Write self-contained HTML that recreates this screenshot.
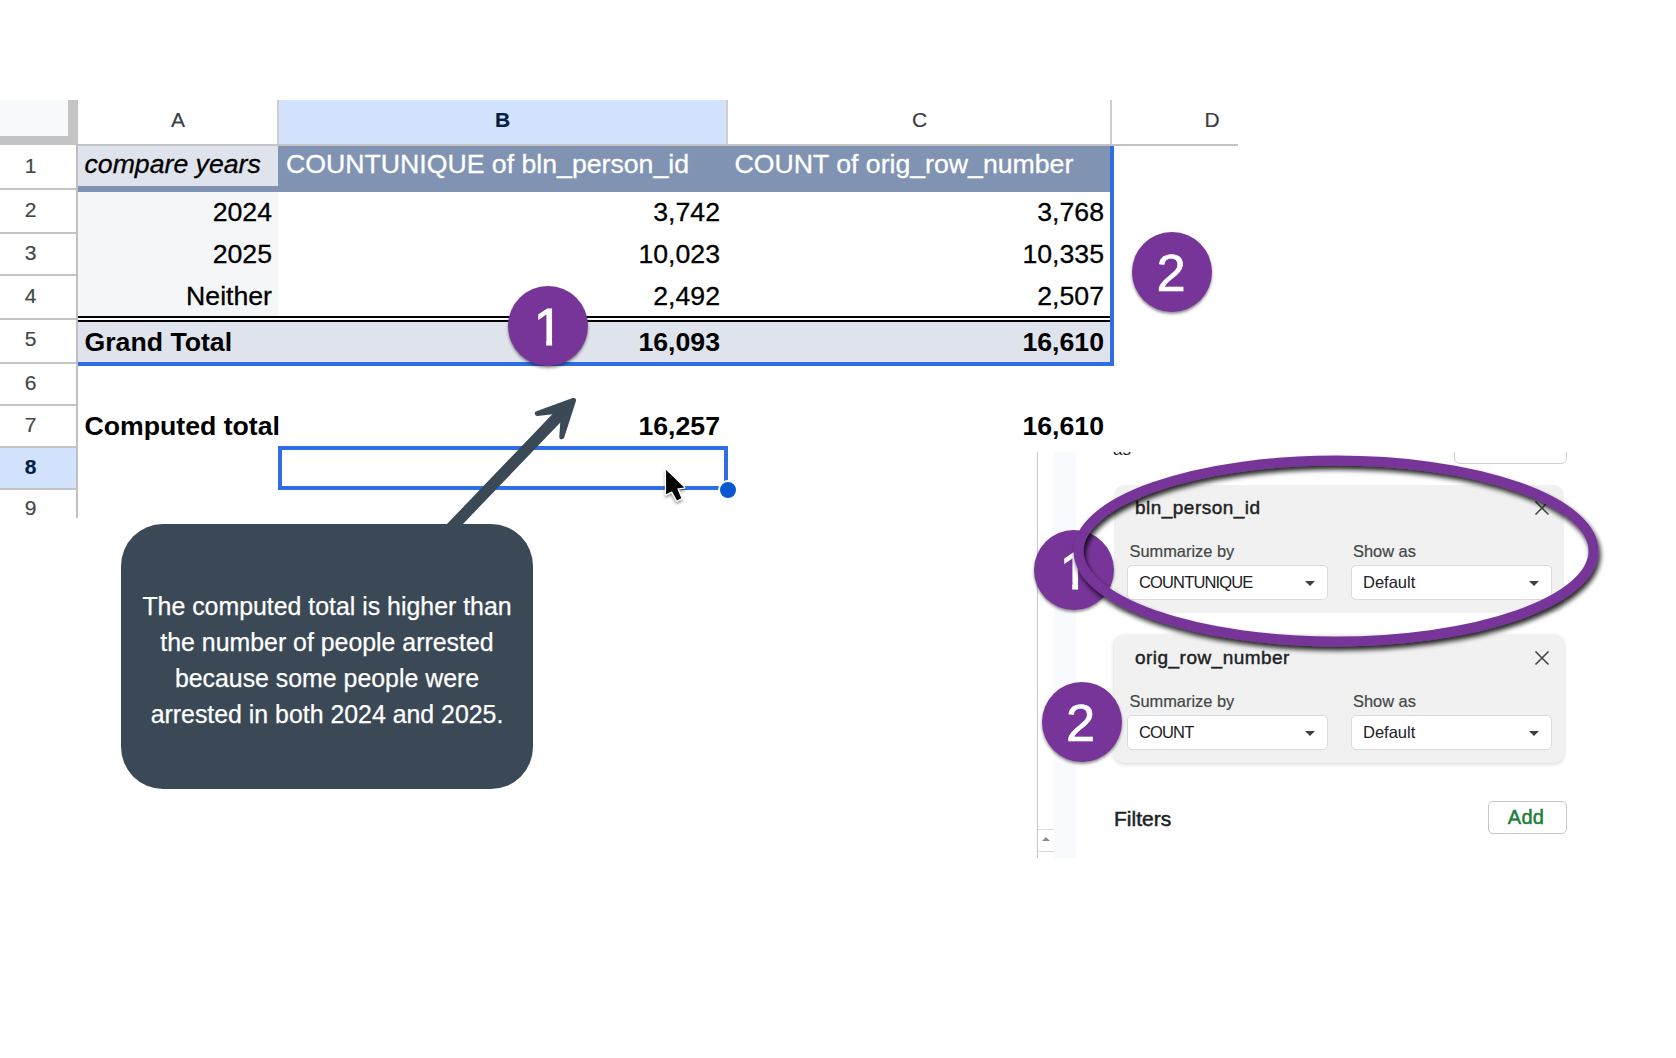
<!DOCTYPE html>
<html lang="en">
<head>
<meta charset="utf-8">
<title>Pivot table totals</title>
<style>
*{box-sizing:border-box;margin:0;padding:0}
html,body{width:1676px;height:1058px;background:#fff;overflow:hidden}
body{position:relative;font-family:"Liberation Sans",sans-serif;color:#000}
.abs{position:absolute}
/* ---------- spreadsheet ---------- */
#sheet{position:absolute;left:0;top:100px;width:1238px;height:418px;overflow:hidden;background:#fff}
#sheet .abs{position:absolute}
.corner{left:0;top:0;width:78px;height:45px;background:#c4c4c4}
.corner i{position:absolute;left:0;top:0;width:68px;height:36px;background:#f8f9fa;display:block}
.colh{-webkit-text-stroke:.2px currentColor;top:0;height:44px;line-height:40.6px;text-align:center;font-size:21px;color:#3c4043;background:#fff}
.colh.sel{background:#d3e3fd;color:#041e49;font-weight:bold}
.vline{top:0;width:2px;height:45px;background:#cfcfcf}
.hline{left:78px;top:44px;height:2px;width:1160px;background:#c4c4c4}
.rowh{left:0;width:77px;text-align:center;font-size:21px;color:#444746;background:#fff;padding-right:16px}
.rowh span{position:relative;top:-1.5px;-webkit-text-stroke:.2px currentColor}
.rowh.sel{background:#d3e3fd;color:#041e49;font-weight:bold}
.rline{left:0;width:77px;height:2px;background:#c4c4c4}
.rvline{left:76px;top:44px;width:2px;height:374px;background:#c0c0c0}
.cell{font-size:26.67px;white-space:nowrap;line-height:30px;-webkit-text-stroke:.3px currentColor}
.cell.b{-webkit-text-stroke:0}
.r{text-align:right}
.b{font-weight:bold}

/* ---------- annotations ---------- */
.badge{position:absolute;width:80px;height:80px;border-radius:50%;background:#773599;color:#fff;font-size:52.5px;line-height:80px;text-align:center;box-shadow:0 2px 3px rgba(0,0,0,.45)}
.badge span{position:absolute;left:-.8px;top:.5px;width:80px;height:80px;display:block;-webkit-text-stroke:.6px #fff}
.badge span.one{left:25.7px;width:auto;-webkit-text-stroke:.9px #fff;clip-path:polygon(0 0,100% 0,100% 65%,63% 65%,63% 100%,43% 100%,43% 65%,0 65%)}
#callout{position:absolute;left:121px;top:524px;width:412px;height:265px;border-radius:42px;background:#3a4955;color:#fff;font-size:24.88px;line-height:36px;text-align:center;padding-top:64px;-webkit-text-stroke:.25px #fff}
/* ---------- side panel ---------- */
#panel{position:absolute;left:1036px;top:452px;width:560px;height:406px;overflow:hidden;background:#fff;font-family:"Liberation Sans",sans-serif}
#panel .abs{position:absolute}
.card{left:78px;width:450px;height:128px;border-radius:10px;background:#f1f1f1}
.fname{left:99px;font-size:19px;letter-spacing:.47px;-webkit-text-stroke:.45px #202124;color:#202124;white-space:nowrap;line-height:22px}
.lbl{font-size:16.4px;color:#444746;white-space:nowrap;line-height:20px;margin-top:.7px;-webkit-text-stroke:.2px #444746}
.dd{width:200.6px;height:35.4px;border:1px solid #d8dadd;border-radius:5px;background:#fff;font-size:16.5px;line-height:32px;padding-left:11px;color:#202124;white-space:nowrap}
.dd:after{content:"";position:absolute;right:12px;top:14.5px;border-left:5.5px solid transparent;border-right:5.5px solid transparent;border-top:5.5px solid #3c4043}
</style>
</head>
<body>
<div id="sheet">
  <!-- cell backgrounds -->
  <div class="abs" style="left:78px;top:46px;width:200px;height:40px;background:#dfe3ec"></div>
  <div class="abs" style="left:78px;top:85.5px;width:202px;height:6px;background:#8093b3"></div>
  <div class="abs" style="left:278px;top:46px;width:834px;height:45.5px;background:#8093b3"></div>
  <div class="abs" style="left:78px;top:91.5px;width:200px;height:126px;background:#f5f6f8"></div>
  <div class="abs" style="left:78px;top:216.4px;width:1034px;height:1.8px;background:#000"></div>
  <div class="abs" style="left:78px;top:220px;width:1034px;height:2.2px;background:#000"></div>
  <div class="abs" style="left:78px;top:222px;width:1034px;height:40.5px;background:#dfe3ec"></div>
  <!-- pivot outline -->
  <div class="abs" style="left:78px;top:262px;width:1036px;height:4px;background:#2f6de3"></div>
  <div class="abs" style="left:1110px;top:46px;width:4px;height:220px;background:#2f6de3"></div>

  <!-- column headers -->
  <div class="abs corner"><i></i></div>
  <div class="abs colh" style="left:78px;width:200px">A</div>
  <div class="abs colh sel" style="left:279px;width:447px">B</div>
  <div class="abs colh" style="left:728px;width:383px">C</div>
  <div class="abs colh" style="left:1112px;width:200px">D</div>
  <div class="abs vline" style="left:277px"></div>
  <div class="abs vline" style="left:725.5px"></div>
  <div class="abs vline" style="left:1109.7px"></div>
  <div class="abs hline"></div>

  <!-- row headers -->
  <div class="abs rowh" style="top:45px;height:43px;line-height:43px"><span>1</span></div>
  <div class="abs rowh" style="top:89px;height:43px;line-height:43px"><span>2</span></div>
  <div class="abs rowh" style="top:133px;height:41px;line-height:41px"><span>3</span></div>
  <div class="abs rowh" style="top:175px;height:43px;line-height:43px"><span>4</span></div>
  <div class="abs rowh" style="top:219.5px;height:42px;line-height:42px"><span>5</span></div>
  <div class="abs rowh" style="top:263px;height:41px;line-height:41px"><span>6</span></div>
  <div class="abs rowh" style="top:305px;height:42px;line-height:42px"><span>7</span></div>
  <div class="abs rowh sel" style="top:347px;height:42px;line-height:42px"><span>8</span></div>
  <div class="abs rowh" style="top:388.8px;height:42px;line-height:42px"><span>9</span></div>
  <div class="abs rline" style="top:87.5px"></div>
  <div class="abs rline" style="top:131.5px"></div>
  <div class="abs rline" style="top:173.5px"></div>
  <div class="abs rline" style="top:218px"></div>
  <div class="abs rline" style="top:261.5px"></div>
  <div class="abs rline" style="top:303.5px"></div>
  <div class="abs rline" style="top:346px"></div>
  <div class="abs rline" style="top:388px"></div>
  <div class="abs rvline"></div>

  <!-- cell text -->
  <div class="abs cell" style="left:84.5px;top:49.2px;font-style:italic">compare years</div>
  <div class="abs cell" style="left:286px;top:49.2px;color:#fff">COUNTUNIQUE of bln_person_id</div>
  <div class="abs cell" style="left:734.5px;top:49.2px;color:#fff">COUNT of orig_row_number</div>

  <div class="abs cell r" style="left:78px;width:194px;top:97.3px">2024</div>
  <div class="abs cell r" style="left:279px;width:441px;top:97.3px">3,742</div>
  <div class="abs cell r" style="left:728px;width:376px;top:97.3px">3,768</div>

  <div class="abs cell r" style="left:78px;width:194px;top:139.3px">2025</div>
  <div class="abs cell r" style="left:279px;width:441px;top:139.3px">10,023</div>
  <div class="abs cell r" style="left:728px;width:376px;top:139.3px">10,335</div>

  <div class="abs cell r" style="left:78px;width:194px;top:181.3px">Neither</div>
  <div class="abs cell r" style="left:279px;width:441px;top:181.3px">2,492</div>
  <div class="abs cell r" style="left:728px;width:376px;top:181.3px">2,507</div>

  <div class="abs cell b" style="left:84.5px;top:227.3px">Grand Total</div>
  <div class="abs cell r b" style="left:279px;width:441px;top:227.3px">16,093</div>
  <div class="abs cell r b" style="left:728px;width:376px;top:227.3px">16,610</div>

  <div class="abs cell b" style="left:84.5px;top:311.3px">Computed total</div>
  <div class="abs cell r b" style="left:279px;width:441px;top:311.3px">16,257</div>
  <div class="abs cell r b" style="left:728px;width:376px;top:311.3px">16,610</div>

  <!-- active cell -->
  <div class="abs" style="left:278px;top:346px;width:450px;height:44px;border:4px solid #2e6fe6"></div>
  <div class="abs" style="left:718px;top:379.5px;width:20px;height:20px;border-radius:50%;background:#0b57d0;border:2px solid #fff"></div>
</div>

<!-- ===== pivot table editor panel ===== -->
<div id="panel">
  <div class="abs" style="left:1px;top:0;width:1px;height:406px;background:#c7c7c7"></div>
  <div class="abs" style="left:18px;top:0;width:21.5px;height:406px;background:#f8fafd"></div>
  <div class="abs" style="left:2px;top:377px;width:16px;height:1px;background:#dcdcdc"></div>
  <div class="abs" style="left:2px;top:399px;width:16px;height:1px;background:#d6dcea"></div>
  <div class="abs" style="left:6px;top:385px;width:0;height:0;border-left:4px solid transparent;border-right:4px solid transparent;border-bottom:4.5px solid #8a8a8a"></div>
  <div class="abs" style="left:77px;top:-11.5px;font-size:17px;line-height:17px;color:#202124">as</div>
  <div class="abs" style="left:418px;top:-20px;width:113px;height:32px;border:1px solid #d0d0d0;border-radius:6px;background:#fff"></div>

  <div class="abs card" style="top:33px"></div>
  <div class="abs fname" style="top:45px">bln_person_id</div>
  <svg class="abs" style="left:498px;top:48px" width="16" height="16" viewBox="0 0 16 16"><path d="M1.5 1.5 L14.5 14.5 M14.5 1.5 L1.5 14.5" stroke="#444746" stroke-width="1.6" fill="none"/></svg>
  <div class="abs lbl" style="left:93.5px;top:88px">Summarize by</div>
  <div class="abs lbl" style="left:317px;top:88px">Show as</div>
  <div class="abs dd" style="left:91px;top:113px"><span style="letter-spacing:-.85px">COUNTUNIQUE</span></div>
  <div class="abs dd" style="left:315px;top:113px">Default</div>

  <div class="abs card" style="top:183px;box-shadow:0 1px 4px rgba(0,0,0,.18)"></div>
  <div class="abs fname" style="top:195px">orig_row_number</div>
  <svg class="abs" style="left:498px;top:198px" width="16" height="16" viewBox="0 0 16 16"><path d="M1.5 1.5 L14.5 14.5 M14.5 1.5 L1.5 14.5" stroke="#444746" stroke-width="1.6" fill="none"/></svg>
  <div class="abs lbl" style="left:93.5px;top:238px">Summarize by</div>
  <div class="abs lbl" style="left:317px;top:238px">Show as</div>
  <div class="abs dd" style="left:91px;top:263px"><span style="letter-spacing:-.85px">COUNT</span></div>
  <div class="abs dd" style="left:315px;top:263px">Default</div>

  <div class="abs" style="left:78px;top:355px;font-size:21px;-webkit-text-stroke:.5px #202124;color:#202124;line-height:24px">Filters</div>
  <div class="abs" style="left:452px;top:349px;width:79px;height:33px;border:1px solid #c7c7c7;border-radius:5px;background:#fff;color:#188038;-webkit-text-stroke:.5px #188038;letter-spacing:.3px;font-size:20px;line-height:30px;text-align:center;padding-right:3px">Add</div>
</div>

<!-- ===== callout ===== -->
<svg class="abs" style="left:0;top:0;pointer-events:none" width="1676" height="1058" viewBox="0 0 1676 1058">
  <defs>
    <filter id="sh" x="-10%" y="-10%" width="120%" height="130%"><feGaussianBlur in="SourceAlpha" stdDeviation="2.6"/><feOffset dx="2" dy="3.6"/><feComponentTransfer><feFuncA type="linear" slope=".85"/></feComponentTransfer><feMerge><feMergeNode/><feMergeNode in="SourceGraphic"/></feMerge></filter>
  </defs>
  <g stroke="#3a4955" fill="#3a4955" stroke-linecap="round" stroke-linejoin="round">
    <path d="M449 530.2 L566.5 407.7" stroke-width="11.5" stroke-linecap="butt" fill="none"/>
    <path d="M573.5 400.4 L537.3 413.5 L563.5 410.6 L561.8 436.8 Z" stroke-width="5"/>
  </g>
</svg>
<div id="callout">The computed total is higher than<br>the number of people arrested<br>because some people were<br>arrested in both 2024 and 2025.</div>

<!-- ===== numbered badges ===== -->
<div class="badge" style="left:508px;top:286px"><span class="one">1</span></div>
<div class="badge" style="left:1132px;top:232px"><span>2</span></div>
<div class="badge" style="left:1034px;top:530px"><span class="one">1</span></div>
<div class="badge" style="left:1041.5px;top:682px"><span>2</span></div>

<!-- highlight ellipse -->
<svg class="abs" style="left:0;top:0;pointer-events:none" width="1676" height="1058" viewBox="0 0 1676 1058">
  <ellipse cx="1336" cy="551" rx="257.5" ry="90.5" fill="none" stroke="#773599" stroke-width="10" filter="url(#sh)"/>
</svg>

<!-- mouse pointer -->
<svg class="abs" style="left:655px;top:460px;pointer-events:none" width="44" height="54" viewBox="655 460 44 54">
  <defs><filter id="cs" x="-30%" y="-30%" width="170%" height="170%"><feGaussianBlur in="SourceAlpha" stdDeviation="1.8"/><feOffset dx="0" dy="2.2"/><feComponentTransfer><feFuncA type="linear" slope=".45"/></feComponentTransfer><feMerge><feMergeNode/><feMergeNode in="SourceGraphic"/></feMerge></filter></defs>
  <path d="M666.1 469.9 L684.2 487.6 L677.2 488.4 L681.3 498.2 L677 500.4 L672 491.3 L666.1 494.2 Z" fill="#000" stroke="#fff" stroke-width="2.4" stroke-linejoin="round" paint-order="stroke" filter="url(#cs)"/>
</svg>
</body>
</html>
